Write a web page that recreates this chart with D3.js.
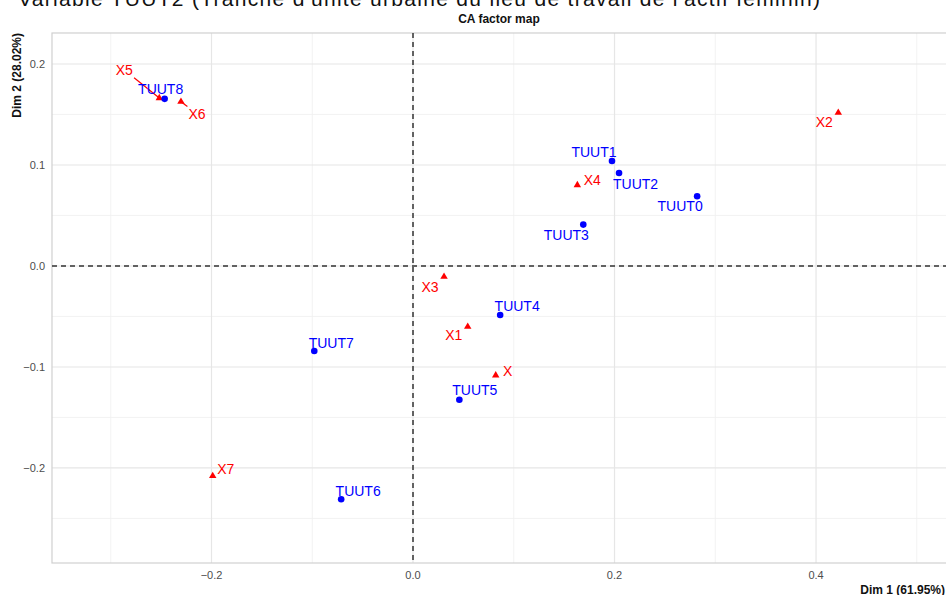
<!DOCTYPE html>
<html>
<head>
<meta charset="utf-8">
<script src="https://cdn.jsdelivr.net/npm/d3@7"></script>
<style>
  body { margin: 0; background: #fff; }
  svg { display: block; font-family: "Liberation Sans", Arial, sans-serif; }
</style>
</head>
<body>
<script>
	var width = 946;
	var height = 595;

	// rows (blue points)
	var rowNames = ["TUUT0","TUUT1","TUUT2","TUUT3","TUUT4","TUUT5","TUUT6","TUUT7","TUUT8"];
	var rowDim1 = [0.282, 0.1975, 0.2045, 0.169, 0.0865, 0.046, -0.0713, -0.098, -0.2465];
	var rowDim2 = [0.069, 0.104, 0.092, 0.041, -0.0485, -0.1325, -0.231, -0.0842, 0.1655];

	// columns (red triangles)
	var colNames = ["X","X1","X2","X3","X4","X5","X6","X7"];
	var colDim1 = [0.0821, 0.0543, 0.4221, 0.0308, 0.1631, -0.2518, -0.2303, -0.1988];
	var colDim2 = [-0.1082, -0.0601, 0.1518, -0.0106, 0.0802, 0.1663, 0.1627, -0.2079];

	var xTicks = [-0.2, 0, 0.2, 0.4];
	var xMinor = [-0.3, -0.1, 0.1, 0.3, 0.5];
	var yTicks = [-0.2, -0.1, 0, 0.1, 0.2];
	var yMinor = [-0.25, -0.15, -0.05, 0.05, 0.15];

	// repel-like label placement (pixels from the point), with segment flag
	var rowLabelOffset = [[-17,10],[-18,-9],[16.5,11],[-17,11],[17,-9],[15.5,-10],[17,-8],[17,-8],[-4,-10]];
	var colLabelOffset = [[12,-4],[-14,8],[-14,9],[-14,10],[15,-5],[-35,-28],[16,12],[13,-7]];
	var colSegment = [false,false,false,false,false,true,true,false];

	var panel = { left: 52, right: 946, top: 33, bottom: 563 };

	var svg = d3.select("body")
		.append("svg")
		.attr("width", width)
		.attr("height", height);

	var x = d3.scaleLinear()
		.domain([-0.3583, 0.5290])
		.range([panel.left, panel.right]);
	var y = d3.scaleLinear()
		.domain([-0.2941, 0.2307])
		.range([panel.bottom, panel.top]);

	// cut-off heading at the very top
	svg.append("text")
		.attr("x", 18)
		.attr("y", 6)
		.attr("font-size", 21)
		.attr("fill", "#111")
		.attr("textLength", 802)
		.text("Variable TUUT2 (Tranche d'unité urbaine du lieu de travail de l'actif féminin)");

	// title
	svg.append("text")
		.attr("x", (panel.left + panel.right) / 2)
		.attr("y", 23)
		.attr("text-anchor", "middle")
		.attr("font-size", 12)
		.attr("font-weight", "bold")
		.attr("fill", "#111")
		.text("CA factor map");

	var grid = svg.append("g");

	grid.selectAll(".xminor")
		.data(xMinor.filter(function(d){ return x(d) < panel.right; }))
		.enter().append("line")
		.attr("x1", function(d){ return x(d); })
		.attr("x2", function(d){ return x(d); })
		.attr("y1", panel.top).attr("y2", panel.bottom)
		.attr("stroke", "#f0f0f0").attr("stroke-width", 0.8);
	grid.selectAll(".yminor")
		.data(yMinor)
		.enter().append("line")
		.attr("y1", function(d){ return y(d); })
		.attr("y2", function(d){ return y(d); })
		.attr("x1", panel.left).attr("x2", panel.right)
		.attr("stroke", "#f0f0f0").attr("stroke-width", 0.8);
	grid.selectAll(".xmajor")
		.data(xTicks)
		.enter().append("line")
		.attr("x1", function(d){ return x(d); })
		.attr("x2", function(d){ return x(d); })
		.attr("y1", panel.top).attr("y2", panel.bottom)
		.attr("stroke", "#e6e6e6").attr("stroke-width", 1.2);
	grid.selectAll(".ymajor")
		.data(yTicks)
		.enter().append("line")
		.attr("y1", function(d){ return y(d); })
		.attr("y2", function(d){ return y(d); })
		.attr("x1", panel.left).attr("x2", panel.right)
		.attr("stroke", "#e6e6e6").attr("stroke-width", 1.2);

	// panel border
	svg.append("rect")
		.attr("x", panel.left)
		.attr("y", panel.top)
		.attr("width", panel.right - panel.left + 2)
		.attr("height", panel.bottom - panel.top)
		.attr("fill", "none")
		.attr("stroke", "#d0d0d0")
		.attr("stroke-width", 1.2);

	// axis tick labels
	svg.append("g")
		.selectAll("text")
		.data(xTicks)
		.enter().append("text")
		.attr("x", function(d){ return x(d); })
		.attr("y", 579)
		.attr("text-anchor", "middle")
		.attr("font-size", 11)
		.attr("fill", "#4d4d4d")
		.text(function(d){ return d3.format(".1f")(d); });
	svg.append("g")
		.selectAll("text")
		.data(yTicks)
		.enter().append("text")
		.attr("x", 45)
		.attr("y", function(d){ return y(d); })
		.attr("dy", "0.35em")
		.attr("text-anchor", "end")
		.attr("font-size", 11)
		.attr("fill", "#4d4d4d")
		.text(function(d){ return d3.format(".1f")(d); });

	// axis titles
	svg.append("text")
		.attr("x", 945)
		.attr("y", 594)
		.attr("text-anchor", "end")
		.attr("font-size", 12)
		.attr("font-weight", "bold")
		.attr("fill", "#111")
		.text("Dim 1 (61.95%)");
	svg.append("text")
		.attr("transform", "translate(21," + panel.top + ") rotate(-90)")
		.attr("text-anchor", "end")
		.attr("font-size", 12)
		.attr("font-weight", "bold")
		.attr("fill", "#111")
		.text("Dim 2 (28.02%)");

	// origin lines
	svg.append("line")
		.attr("x1", x(0)).attr("x2", x(0))
		.attr("y1", panel.top).attr("y2", panel.bottom)
		.attr("stroke", "#333").attr("stroke-width", 1.5)
		.attr("stroke-dasharray", "5,4");
	svg.append("line")
		.attr("x1", panel.left).attr("x2", panel.right)
		.attr("y1", y(0)).attr("y2", y(0))
		.attr("stroke", "#333").attr("stroke-width", 1.5)
		.attr("stroke-dasharray", "5,4");

	var rows = rowNames.map(function(n, i){
		return { name: n, d1: rowDim1[i], d2: rowDim2[i], off: rowLabelOffset[i], seg: false };
	});
	var cols = colNames.map(function(n, i){
		return { name: n, d1: colDim1[i], d2: colDim2[i], off: colLabelOffset[i], seg: colSegment[i] };
	});

	function drawLabels(data, color) {
		var g = svg.append("g");
		var labels = g.selectAll("text")
			.data(data)
			.enter().append("text")
			.attr("x", function(d){ return x(d.d1) + d.off[0]; })
			.attr("y", function(d){ return y(d.d2) + d.off[1]; })
			.attr("dy", "0.35em")
			.attr("text-anchor", "middle")
			.attr("font-size", 14)
			.attr("fill", color)
			.text(function(d){ return d.name; });
		// segments from point to label box edge
		labels.each(function(d){
			if (!d.seg) return;
			var b = this.getBBox();
			var px = x(d.d1), py = y(d.d2);
			var cx = b.x + b.width / 2, cy = b.y + b.height / 2;
			var hw = b.width / 2 + 1, hh = b.height / 2 + 1;
			var dx = px - cx, dy = py - cy;
			var t = Math.min(Math.abs(hw / dx), Math.abs(hh / dy));
			g.append("line")
				.attr("x1", cx + dx * t).attr("y1", cy + dy * t)
				.attr("x2", px).attr("y2", py)
				.attr("stroke", color).attr("stroke-width", 1.2);
		});
	}

	drawLabels(cols, "#ff0000");
	drawLabels(rows, "#0000ff");

	svg.append("g")
		.selectAll("path")
		.data(cols)
		.enter().append("path")
		.attr("transform", function(d){ return "translate(" + x(d.d1) + "," + y(d.d2) + ")"; })
		.attr("d", d3.symbol().type(d3.symbolTriangle).size(24))
		.attr("fill", "#ff0000");

	svg.append("g")
		.selectAll("circle")
		.data(rows)
		.enter().append("circle")
		.attr("cx", function(d){ return x(d.d1); })
		.attr("cy", function(d){ return y(d.d2); })
		.attr("r", 3.3)
		.attr("fill", "#0000ff");
</script>
</body>
</html>
